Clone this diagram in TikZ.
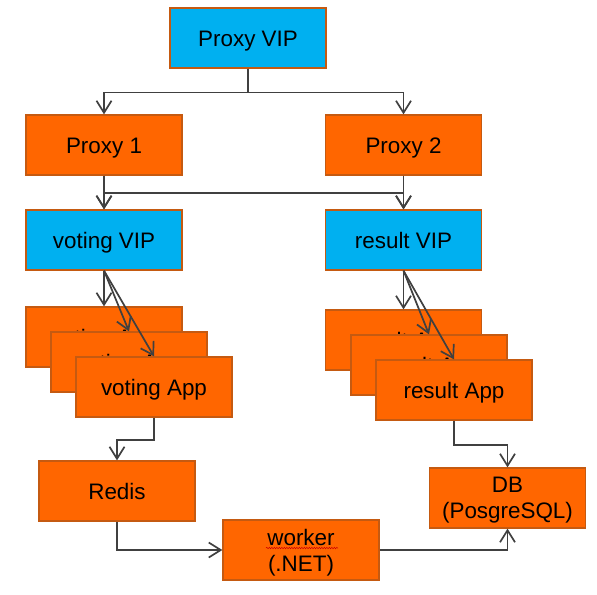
\documentclass[tikz,border=0pt]{standalone}
\usepackage{fontspec}
\setmainfont{Liberation Sans}
\usetikzlibrary{arrows.meta,decorations.pathmorphing}
\definecolor{org}{HTML}{FF6600}
\definecolor{orgline}{HTML}{C55A11}
\definecolor{vipblue}{HTML}{00B0F0}
\definecolor{wire}{HTML}{404040}
\begin{document}
\begin{tikzpicture}[x=1bp,y=-1bp,
  box/.style={draw=orgline, line width=1.3bp, minimum width=156bp, minimum height=60bp,
    inner sep=0pt, font=\fontsize{22.5}{26}\selectfont},
  one/.style={text height=16.1bp, text depth=0pt},
  two/.style={align=center, text depth=0pt},
  app/.style={box, fill=org},
  vipbox/.style={box, fill=vipblue},
  conn/.style={draw=wire, line width=1.7bp,
    -{Straight Barb[length=12bp,width=15bp,line width=1.7bp]}}]
\useasboundingbox (0,0) rectangle (597,595);
% nodes
\node[vipbox,one] (pvip) at (248,38) {Proxy VIP};
\node[app,one] (p1) at (104,145) {Proxy 1};
\node[app,one] (p2) at (403.5,145) {Proxy 2};
\node[vipbox,one] (vvip) at (104,240) {voting VIP};
\node[vipbox,one] (rvip) at (403.5,240) {result VIP};
\node[app,one] (va1) at (104,337) {voting App};
\node[app,one] (va2) at (129,362) {voting App};
\node[app,one] (va3) at (154,387) {voting App};
\node[app,one] (ra1) at (403.5,340) {result App};
\node[app,one] (ra2) at (429,365) {result App};
\node[app,one] (ra3) at (454,390) {result App};
\node[app,one] (redis) at (117,491) {Redis};
\node[app,two] (worker) at (301,550) {worker\\(.NET)};
\node[app,two] (db) at (507.5,498) {DB\\(PosgreSQL)};
% spell-check underline
\draw[red!80!black, line width=0.5bp, decorate, decoration={snake, amplitude=0.7bp, segment length=2.5bp}]
  ([xshift=-35bp,yshift=2bp]worker.center) -- ([xshift=37bp,yshift=2bp]worker.center);
% connectors
\draw[conn] (pvip.south) -- ++(0,24) -| (p1.north);
\draw[conn] (pvip.south) -- ++(0,24) -| (p2.north);
\draw[conn] (p1.south) -- ++(0,17) -| (vvip.north);
\draw[conn] (p1.south) -- ++(0,17) -| (rvip.north);
\draw[conn] (p2.south) -- ++(0,17) -| (rvip.north);
\draw[conn] (p2.south) -- ++(0,17) -| (vvip.north);
\draw[conn] (vvip.south) -- (va1.north);
\draw[conn] (vvip.south) -- (va2.north);
\draw[conn] (vvip.south) -- (va3.north);
\draw[conn] (rvip.south) -- (ra1.north);
\draw[conn] (rvip.south) -- (ra2.north);
\draw[conn] (rvip.south) -- (ra3.north);
\draw[conn] (va3.south) -- ++(0,22) -| (redis.north);
\draw[conn] (redis.south) |- (worker.west);
\draw[conn] (worker.east) -| (db.south);
\draw[conn] (ra3.south) -- ++(0,24) -| (db.north);
\end{tikzpicture}
\end{document}
